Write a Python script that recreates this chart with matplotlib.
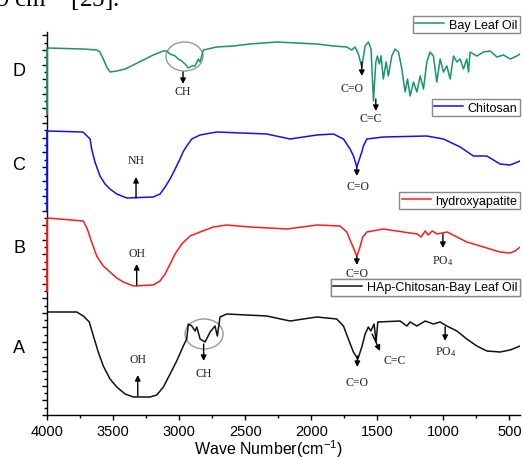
import matplotlib
matplotlib.use('Agg')
import matplotlib.pyplot as plt
from matplotlib.lines import Line2D
from matplotlib.patches import Ellipse
from matplotlib.ticker import FixedLocator
import numpy as np

plt.rcParams['font.family'] = 'Liberation Sans'
plt.rcParams['mathtext.default'] = 'regular'

# --- spectra (wavenumber, stacked transmittance in a.u.) ---
# D : bay leaf oil
wn_oil = [4000, 3727, 3626, 3601, 3576, 3550, 3525, 3474, 3411, 3348, 3273, 3197,
          3121, 3095, 3070, 3032, 3008, 2982, 2957, 2932, 2906, 2881, 2856, 2843,
          2818, 2717, 2591, 2464, 2262, 1959, 1833, 1732, 1694, 1669, 1644, 1618,
          1593, 1568, 1548, 1530, 1512, 1500, 1485, 1472, 1455, 1434, 1417, 1391,
          1366, 1340, 1315, 1290, 1272, 1252, 1227, 1201, 1176, 1151, 1126, 1101,
          1076, 1050, 1025, 1000, 974, 949, 924, 898, 873, 848, 823, 810, 798, 747,
          697, 646, 595, 545, 494, 444, 406]
t_oil = [367, 366, 365, 363, 356, 348, 343, 344, 346, 350, 355, 360,
         364, 364, 361, 359, 356, 354, 351, 347, 349, 349, 356, 353,
         365, 368, 369, 371, 373, 371, 369, 368, 365, 368, 361, 348,
         369, 373, 366, 314, 353, 359, 351, 359, 336, 353, 339, 359,
         366, 363, 346, 323, 336, 319, 333, 323, 339, 326, 353, 363,
         359, 333, 356, 343, 349, 336, 359, 353, 356, 346, 356, 343, 363, 359,
         363, 364, 358, 360, 356, 359, 362]

# C : chitosan
wn_chi = [4000, 3730, 3676, 3664, 3639, 3601, 3563, 3525, 3474, 3398, 3199, 3146,
          3108, 3070, 3032, 2995, 2972, 2944, 2906, 2843, 2717, 2338, 2161, 1959,
          1833, 1757, 1707, 1681, 1656, 1636, 1618, 1606, 1580, 1455, 1126, 1000,
          873, 773, 671, 571, 495, 419]
t_chi = [284, 283, 276, 266, 253, 239, 231, 226, 221, 217, 218, 221,
         228, 236, 246, 256, 263, 269, 276, 280, 283, 281, 276, 280,
         281, 276, 266, 259, 248, 256, 263, 269, 276, 278, 279, 276,
         268, 259, 259, 251, 250, 254]

# B : hydroxyapatite
wn_hap = [4000, 3727, 3697, 3664, 3626, 3576, 3525, 3474, 3424, 3348, 3197, 3146,
          3108, 3070, 3032, 2982, 2919, 2843, 2742, 2641, 2464, 2184, 1957, 1783,
          1732, 1694, 1669, 1656, 1636, 1611, 1580, 1457, 1199, 1169, 1138, 1116,
          1085, 1048, 972, 823, 697, 571, 495, 457, 419]
t_hap = [197, 194, 186, 173, 159, 149, 143, 137, 133, 129, 130, 134,
         141, 151, 161, 171, 179, 183, 188, 190, 188, 186, 190, 189,
         183, 171, 163, 159, 166, 178, 183, 186, 181, 178, 184, 180,
         184, 181, 183, 173, 168, 163, 162, 164, 168]

# A : HAp-chitosan-bay leaf oil
wn_comp = [4000, 3777, 3727, 3697, 3682, 3651, 3614, 3576, 3525, 3474, 3411, 3348,
           3222, 3171, 3121, 3070, 3020, 2970, 2944, 2932, 2906, 2881, 2868, 2843,
           2805, 2767, 2730, 2712, 2692, 2641, 2338, 2161, 1959, 1808, 1757, 1720,
           1682, 1648, 1618, 1593, 1568, 1550, 1525, 1510, 1497, 1328, 1277, 1252,
           1201, 1138, 1076, 1025, 974, 898, 823, 747, 671, 571, 495, 419]
t_comp = [103, 103, 99, 95, 93, 79, 63, 49, 36, 28, 21, 18,
          18, 20, 28, 41, 54, 69, 76, 91, 89, 84, 88, 76,
          73, 83, 89, 79, 98, 101, 99, 94, 98, 96, 89, 76,
          63, 56, 68, 81, 88, 84, 91, 73, 93, 94, 89, 93,
          89, 94, 91, 93, 89, 84, 76, 69, 64, 63, 65, 69]

names = ['Bay Leaf Oil', 'Chitosan', 'hydroxyapatite', 'HAp-Chitosan-Bay Leaf Oil']
colors = ['#17966a', '#1010ff', '#ff1a1a', '#111111']
panel_letters = ['D', 'C', 'B', 'A']

# band labels: text, x, y
band_text = ['CH', 'C=O', 'C=C', 'NH', 'C=O', 'OH', 'C=O', 'PO$_4$',
             'OH', 'CH', 'C=O', 'C=C', 'PO$_4$']
band_x = [2972, 1694, 1548, 3328, 1644, 3323, 1656, 1004, 3315, 2816, 1652, 1366, 987]
band_y = [324, 327, 297, 255, 229, 162, 142, 155, 56, 42, 33, 55, 64]
# arrows: tail -> head
arr_tail = [(2972, 343), (1618, 353), (1512, 316), (3328, 217), (1656, 248),
            (3323, 130), (1656, 159), (1004, 181), (3315, 19), (2816, 71),
            (1652, 59), (1540, 81), (987, 88)]
arr_head = [(2972, 331), (1618, 339), (1512, 304), (3328, 238), (1656, 239),
            (3323, 151), (1656, 150), (1004, 167), (3315, 40), (2816, 54),
            (1652, 48), (1480, 64), (987, 74)]

W, H = 523, 460
fig = plt.figure(figsize=(W / 100, H / 100), dpi=100)
ax = fig.add_axes([47.3 / W, 44 / H, (520 - 47.3) / W, 383 / H])

series = [(wn_oil, t_oil), (wn_chi, t_chi), (wn_hap, t_hap), (wn_comp, t_comp)]
for (x, y), c in zip(series, colors):
    ax.plot(x, y, color=c, lw=1.1)

# coloured pieces of the left axis (each spectrum runs down the axis)
seg = [(367, 301), (284, 204), (196, 124)]
for (a, b), c in zip(seg, colors[:3]):
    ax.plot([4000, 4000], [a, b], color=c, lw=1.3, clip_on=False, zorder=4)

ax.set_xlim(4000, 420)
ax.set_ylim(0, 383)
for s in ['top', 'right']:
    ax.spines[s].set_visible(False)
ax.spines['left'].set_linewidth(1.0)
ax.spines['bottom'].set_linewidth(1.0)

ax.xaxis.set_major_locator(FixedLocator([4000, 3500, 3000, 2500, 2000, 1500, 1000, 500]))
ax.xaxis.set_minor_locator(FixedLocator([3750, 3250, 2750, 2250, 1750, 1250, 750]))
ax.yaxis.set_major_locator(FixedLocator(np.arange(0, 383, 14.6)))
ax.yaxis.set_minor_locator(FixedLocator(np.arange(7.3, 383, 14.6)))
ax.set_yticklabels([])
ax.tick_params(axis='both', which='major', direction='out', length=3.5, width=1,
               labelsize=10.5, pad=3)
ax.tick_params(axis='both', which='minor', direction='out', length=2.2, width=1)
ax.set_xlabel('Wave Number(cm$^{-1}$)', fontsize=11.5)
ax.xaxis.label.set_va('center')
ax.xaxis.set_label_coords((268 - 47.3) / 472.7, -(449.5 - 416) / 383)

for t, x, y in zip(band_text, band_x, band_y):
    ax.text(x, y, t, family='Liberation Serif', fontsize=8.5, ha='center', va='center',
            color='#222222', zorder=3)
for tl, hd in zip(arr_tail, arr_head):
    ax.annotate('', xy=hd, xytext=tl,
                arrowprops=dict(arrowstyle='-|>', color='k', lw=1.0, mutation_scale=8,
                                shrinkA=0, shrinkB=0))

# circled CH regions
ax.add_patch(Ellipse((2961, 358.5), 280, 29, fill=False, ec='#999999', lw=1.0))
ax.add_patch(Ellipse((2813, 81), 288, 30, fill=False, ec='#999999', lw=1.0))

# separate legend boxes
leg_top = [17, 100, 193.3, 280]
for name, c, top in zip(names, colors, leg_top):
    leg = ax.legend(handles=[Line2D([], [], color=c, lw=1.1)], labels=[name],
                    loc='upper right', bbox_to_anchor=(520 / W, 1 - top / H),
                    bbox_transform=fig.transFigure, fontsize=9, frameon=True,
                    fancybox=False, edgecolor='#888888', framealpha=1,
                    handlelength=2.3, handletextpad=0.4, borderpad=0.2,
                    borderaxespad=0)
    leg.get_frame().set_linewidth(1.0)
    ax.add_artist(leg)

# panel letters
letter_y = [71.7, 165, 248.5, 349]
for L, yy in zip(panel_letters, letter_y):
    fig.text(19 / W, 1 - yy / H, L, fontsize=13, ha='center', va='center')

# cropped line of the surrounding page text
fig.text(-4 / W, 1 - 7 / H, '9 cm$^{-1}$ [25].', family='Liberation Serif',
         fontsize=18, ha='left', va='baseline')

fig.savefig('out.png', dpi=100)
